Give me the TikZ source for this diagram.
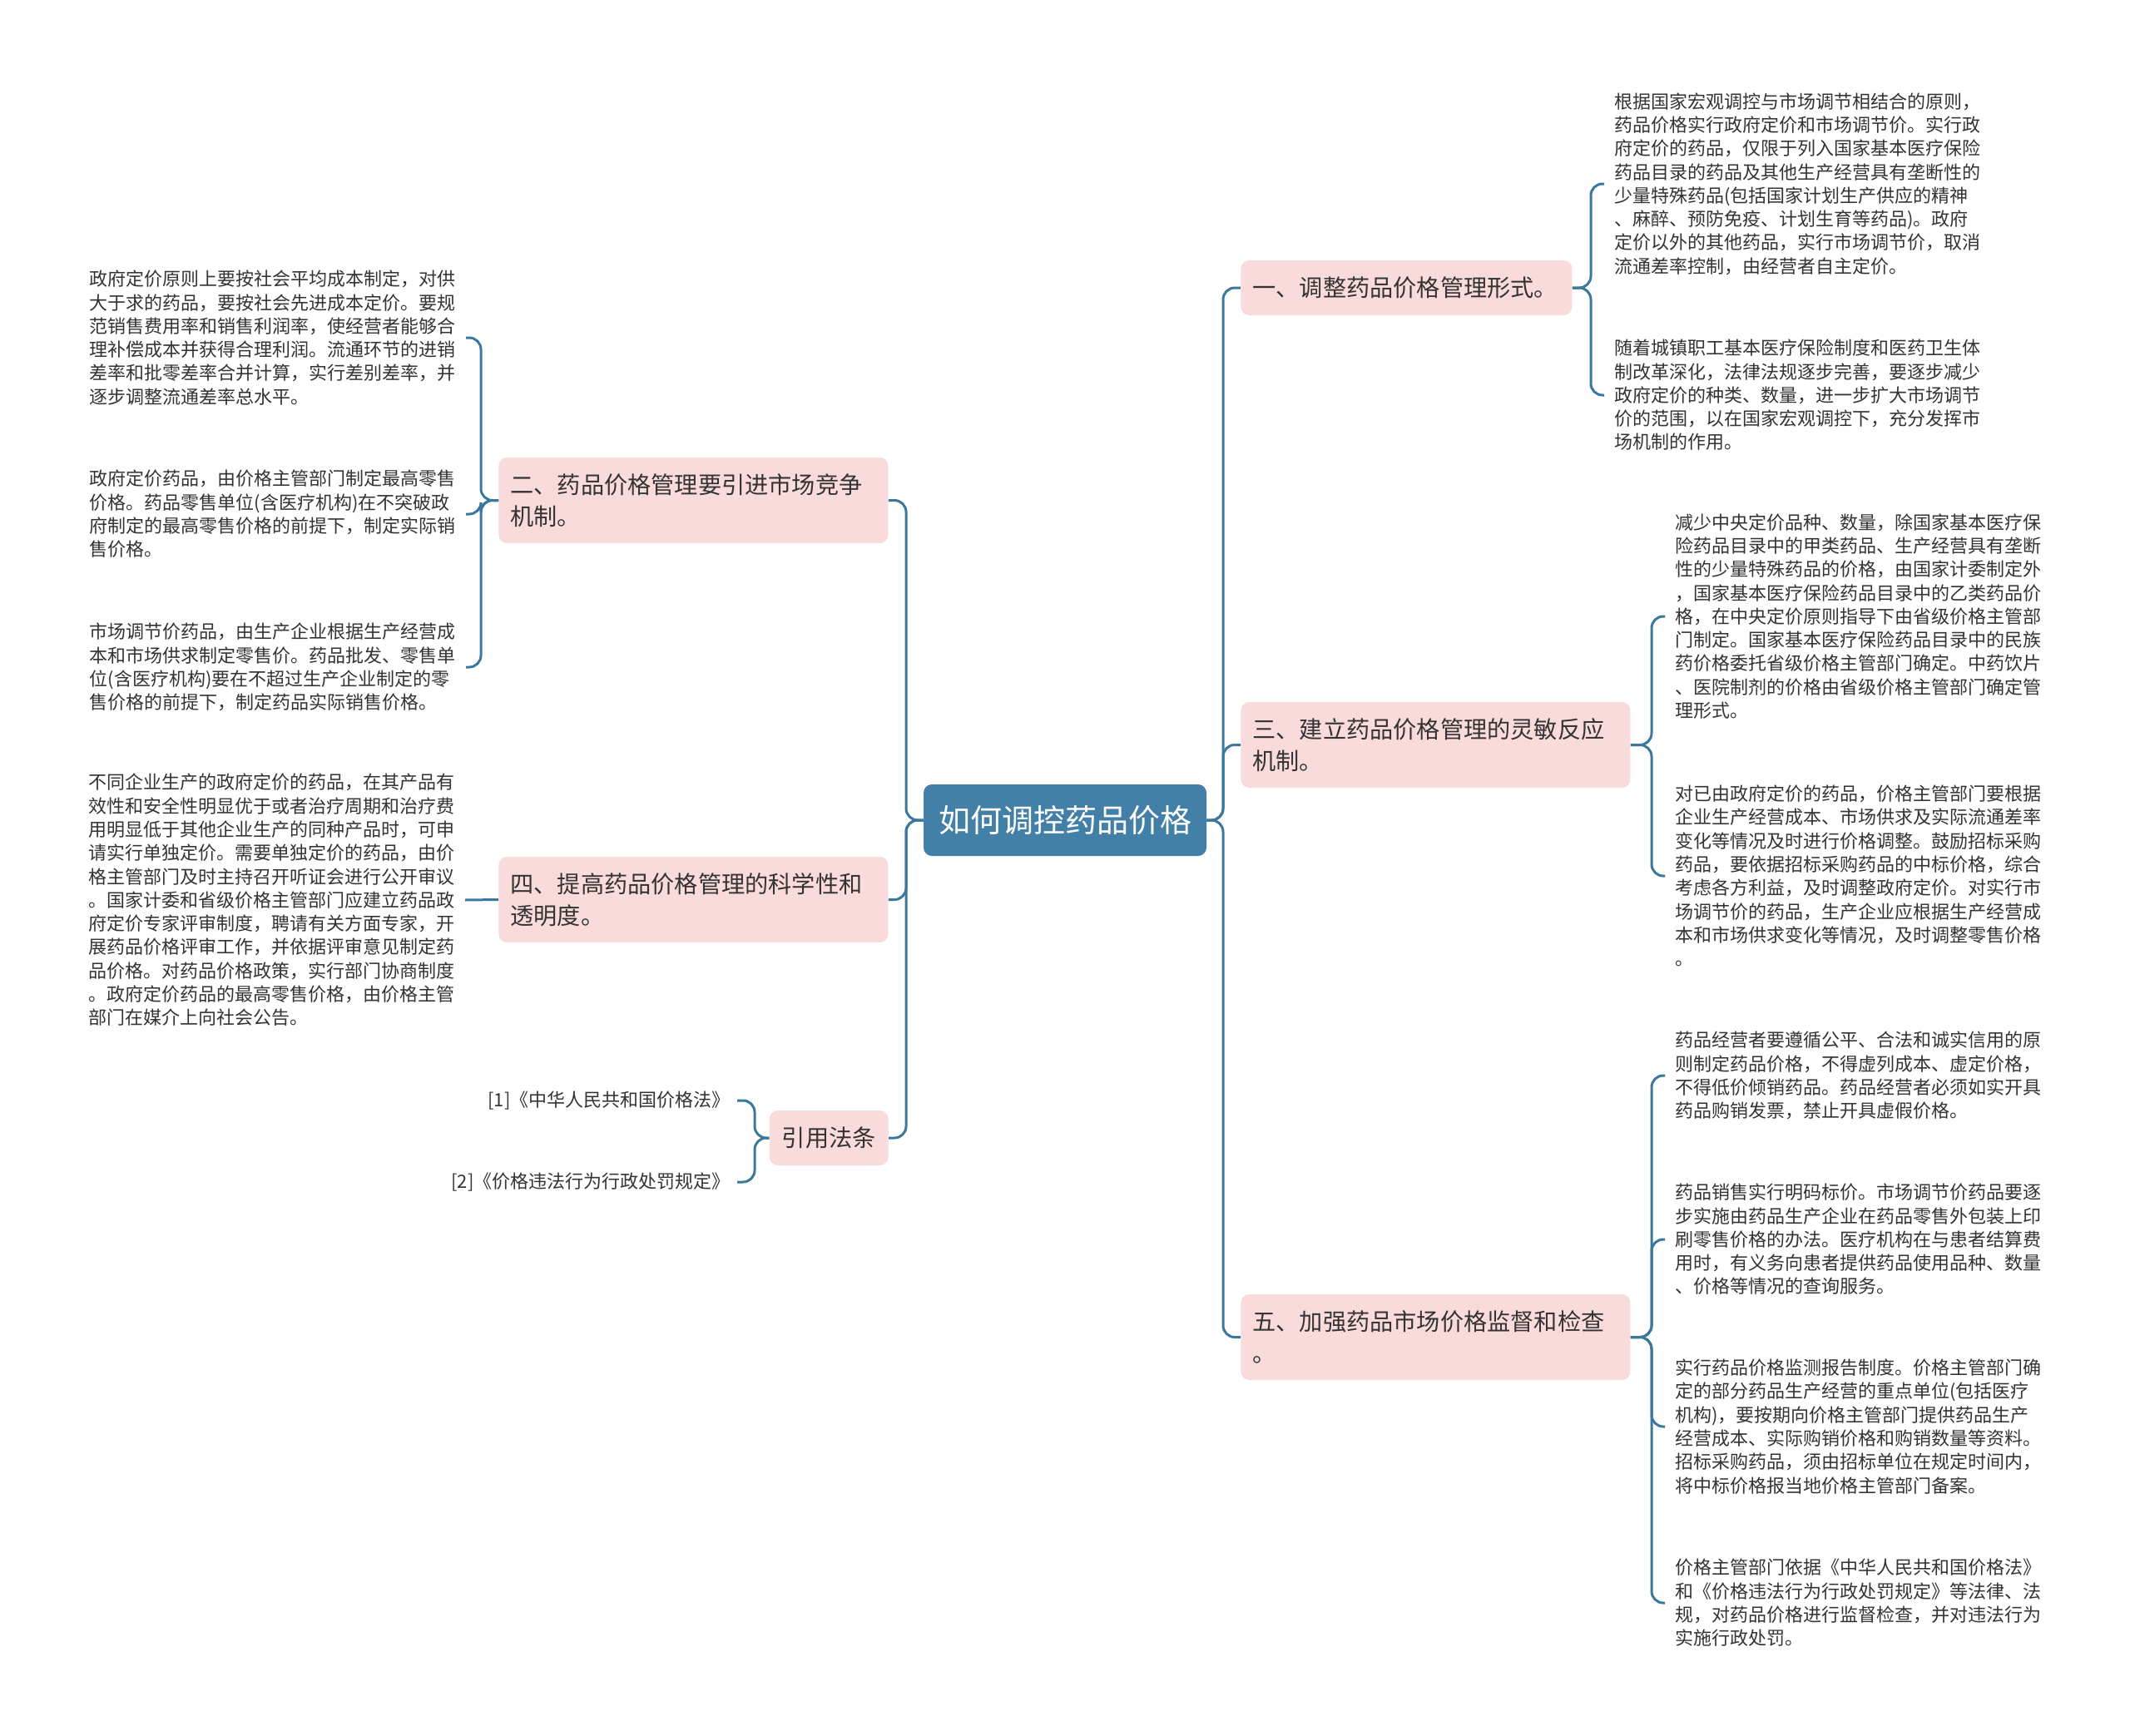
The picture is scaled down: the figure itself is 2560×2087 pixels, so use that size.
\documentclass[tikz,border=0pt]{standalone}
\usepackage{fontspec}
\setmainfont{Noto Sans CJK SC}
\definecolor{linkc}{HTML}{3B789C}
\definecolor{rootc}{HTML}{4280A8}
\definecolor{pinkc}{HTML}{FADBDB}
\definecolor{txtc}{HTML}{333333}
\tikzset{
  conn/.style={draw=linkc, line width=1.5pt, rounded corners=7pt},
  rootnode/.style={fill=rootc, rounded corners=5pt, text=white, font=\fontsize{19}{23}\selectfont, minimum width=170pt, minimum height=43pt, inner sep=0pt},
  topic/.style={fill=pinkc, rounded corners=5pt, text=txtc, font=\fontsize{14.1}{18.75}\selectfont, align=left, inner xsep=7pt, inner ysep=2pt},
  leaf/.style={text=txtc, font=\fontsize{11}{14.15}\selectfont, align=left, inner xsep=6pt, inner ysep=0pt},
}
\begin{document}
\begin{tikzpicture}[x=0.5pt,y=-0.5pt]
\fill[white] (0,0) rectangle (2560,2087);
\useasboundingbox (0,0) rectangle (2560,2087);

% root
\node[rootnode] (root) at (1280,986) {如何调控药品价格};

% right topics
\node[topic, anchor=west, text width=185pt, minimum height=33pt] (t1) at (1491,346) {一、调整药品价格管理形式。};
\node[topic, anchor=west, text width=220pt, minimum height=51.5pt] (t3) at (1491,895.5) {三、建立药品价格管理的灵敏反应\\机制。};
\node[topic, anchor=west, text width=220pt, minimum height=51.5pt] (t5) at (1491,1607.5) {五、加强药品市场价格监督和检查\\。};

% left topics
\node[topic, anchor=west, text width=220pt, minimum height=51.5pt] (t2) at (599,601.5) {二、药品价格管理要引进市场竞争\\机制。};
\node[topic, anchor=west, text width=220pt, minimum height=51.5pt] (t4) at (599,1081.5) {四、提高药品价格管理的科学性和\\透明度。};
\node[topic, anchor=east, align=center, inner xsep=7.5pt, minimum height=33pt] (tr) at (1068,1368) {引用法条};

% right leaves
\node[leaf, anchor=west] (r1) at (1928,221) {根据国家宏观调控与市场调节相结合的原则，\\药品价格实行政府定价和市场调节价。实行政\\府定价的药品，仅限于列入国家基本医疗保险\\药品目录的药品及其他生产经营具有垄断性的\\少量特殊药品(包括国家计划生产供应的精神\\、麻醉、预防免疫、计划生育等药品)。政府\\定价以外的其他药品，实行市场调节价，取消\\流通差率控制，由经营者自主定价。};
\node[leaf, anchor=west] (r2) at (1928,475) {随着城镇职工基本医疗保险制度和医药卫生体\\制改革深化，法律法规逐步完善，要逐步减少\\政府定价的种类、数量，进一步扩大市场调节\\价的范围，以在国家宏观调控下，充分发挥市\\场机制的作用。};
\node[leaf, anchor=west] (r3) at (2001,741) {减少中央定价品种、数量，除国家基本医疗保\\险药品目录中的甲类药品、生产经营具有垄断\\性的少量特殊药品的价格，由国家计委制定外\\，国家基本医疗保险药品目录中的乙类药品价\\格，在中央定价原则指导下由省级价格主管部\\门制定。国家基本医疗保险药品目录中的民族\\药价格委托省级价格主管部门确定。中药饮片\\、医院制剂的价格由省级价格主管部门确定管\\理形式。};
\node[leaf, anchor=west] (r4) at (2001,1053) {对已由政府定价的药品，价格主管部门要根据\\企业生产经营成本、市场供求及实际流通差率\\变化等情况及时进行价格调整。鼓励招标采购\\药品，要依据招标采购药品的中标价格，综合\\考虑各方利益，及时调整政府定价。对实行市\\场调节价的药品，生产企业应根据生产经营成\\本和市场供求变化等情况，及时调整零售价格\\。};
\node[leaf, anchor=west] (r5) at (2001,1293) {药品经营者要遵循公平、合法和诚实信用的原\\则制定药品价格，不得虚列成本、虚定价格，\\不得低价倾销药品。药品经营者必须如实开具\\药品购销发票，禁止开具虚假价格。};
\node[leaf, anchor=west] (r6) at (2001,1490) {药品销售实行明码标价。市场调节价药品要逐\\步实施由药品生产企业在药品零售外包装上印\\刷零售价格的办法。医疗机构在与患者结算费\\用时，有义务向患者提供药品使用品种、数量\\、价格等情况的查询服务。};
\node[leaf, anchor=west] (r7) at (2001,1715) {实行药品价格监测报告制度。价格主管部门确\\定的部分药品生产经营的重点单位(包括医疗\\机构)，要按期向价格主管部门提供药品生产\\经营成本、实际购销价格和购销数量等资料。\\招标采购药品，须由招标单位在规定时间内，\\将中标价格报当地价格主管部门备案。};
\node[leaf, anchor=west] (r8) at (2001,1927) {价格主管部门依据《中华人民共和国价格法》\\和《价格违法行为行政处罚规定》等法律、法\\规，对药品价格进行监督检查，并对违法行为\\实施行政处罚。};

% left leaves
\node[leaf, anchor=east] (l1) at (560,406) {政府定价原则上要按社会平均成本制定，对供\\大于求的药品，要按社会先进成本定价。要规\\范销售费用率和销售利润率，使经营者能够合\\理补偿成本并获得合理利润。流通环节的进销\\差率和批零差率合并计算，实行差别差率，并\\逐步调整流通差率总水平。};
\node[leaf, anchor=east] (l2) at (560,618) {政府定价药品，由价格主管部门制定最高零售\\价格。药品零售单位(含医疗机构)在不突破政\\府制定的最高零售价格的前提下，制定实际销\\售价格。};
\node[leaf, anchor=east] (l3) at (560,802) {市场调节价药品，由生产企业根据生产经营成\\本和市场供求制定零售价。药品批发、零售单\\位(含医疗机构)要在不超过生产企业制定的零\\售价格的前提下，制定药品实际销售价格。};
\node[leaf, anchor=east] (l4) at (559,1082) {不同企业生产的政府定价的药品，在其产品有\\效性和安全性明显优于或者治疗周期和治疗费\\用明显低于其他企业生产的同种产品时，可申\\请实行单独定价。需要单独定价的药品，由价\\格主管部门及时主持召开听证会进行公开审议\\。国家计委和省级价格主管部门应建立药品政\\府定价专家评审制度，聘请有关方面专家，开\\展药品价格评审工作，并依据评审意见制定药\\品价格。对药品价格政策，实行部门协商制度\\。政府定价药品的最高零售价格，由价格主管\\部门在媒介上向社会公告。};

% references
\node[leaf, anchor=east, inner xsep=4pt] (f1) at (886,1323) {[1]《中华人民共和国价格法》};
\node[leaf, anchor=east, inner xsep=4pt] (f2) at (886,1421) {[2]《价格违法行为行政处罚规定》};

% main connectors
\draw[conn] (root.east) -- (1470,986) |- (t1.west);
\draw[conn] (root.east) -- (1470,986) |- (t3.west);
\draw[conn] (root.east) -- (1470,986) |- (t5.west);
\draw[conn] (root.west) -- (1089,986) |- (t2.east);
\draw[conn] (root.west) -- (1089,986) |- (t4.east);
\draw[conn] (root.west) -- (1089,986) |- (tr.east);

% leaf connectors
\draw[conn] (t1.east) -- (1912,346) |- (r1.west);
\draw[conn] (t1.east) -- (1912,346) |- (r2.west);
\draw[conn] (t3.east) -- (1985,895.5) |- (r3.west);
\draw[conn] (t3.east) -- (1985,895.5) |- (r4.west);
\draw[conn] (t5.east) -- (1985,1607.5) |- (r5.west);
\draw[conn] (t5.east) -- (1985,1607.5) |- (r6.west);
\draw[conn] (t5.east) -- (1985,1607.5) |- (r7.west);
\draw[conn] (t5.east) -- (1985,1607.5) |- (r8.west);
\draw[conn] (t2.west) -- (578,601.5) |- (l1.east);
\draw[conn] (t2.west) -- (578,601.5) |- (l2.east);
\draw[conn] (t2.west) -- (578,601.5) |- (l3.east);
\draw[conn] (t4.west) -- (l4.east);
\draw[conn] (tr.west) -- (907,1368) |- (f1.east);
\draw[conn] (tr.west) -- (907,1368) |- (f2.east);
\end{tikzpicture}
\end{document}
